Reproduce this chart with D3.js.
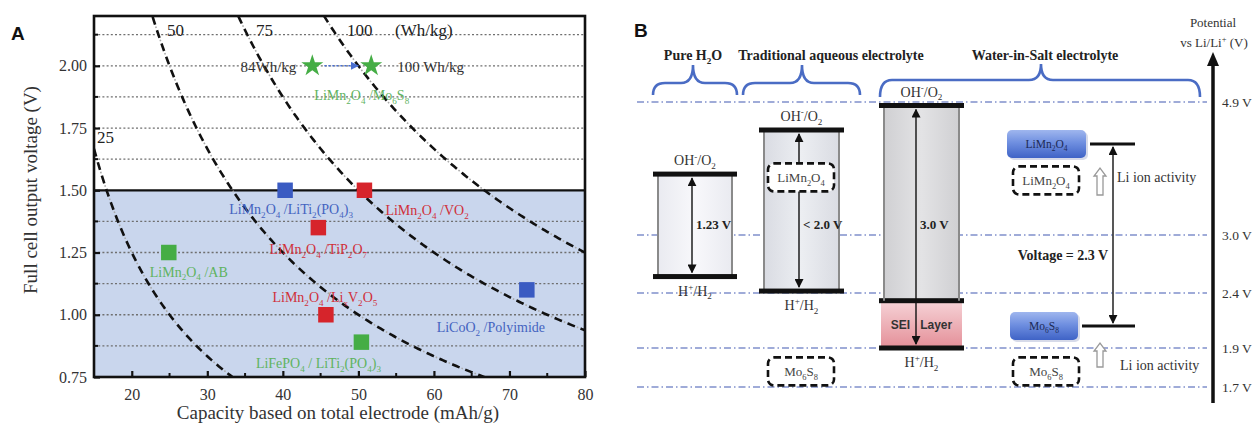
<!DOCTYPE html>
<html><head><meta charset="utf-8">
<script src="https://cdn.jsdelivr.net/npm/d3@7"></script>
<style>
body{margin:0;background:#fff}
svg{display:block}
text{font-family:"Liberation Serif","Times New Roman",serif}
</style>
</head><body>
<svg id="c" width="1255" height="426"></svg>
<script>
// ---------------- DATA: panel A ----------------
const xTicks = [20, 30, 40, 50, 60, 70, 80];
const yTicks = [0.75, 1.00, 1.25, 1.50, 1.75, 2.00];
const energyLevels = [25, 50, 75, 100];           // Wh/kg iso-energy curves
const couples = ["LiMn_2O_4 /LiTi_2(PO_4)_3", "LiMn_2O_4 /VO_2", "LiMn_2O_4 /TiP_2O_7",
                 "LiMn_2O_4 /AB", "LiMn_2O_4 /Li_xV_2O_5", "LiCoO_2 /Polyimide", "LiFePO_4 / LiTi_2(PO_4)_3"];
const capacity = [40.3, 50.8, 44.7, 24.9, 45.7, 72.3, 50.4];
const voltage  = [1.50, 1.50, 1.35, 1.25, 1.00, 1.10, 0.89];
const coupleGroup = ["g1", "g2", "g2", "g3", "g2", "g1", "g3"];
const starCapacity = [43.9, 51.7];
const starVoltage  = [2.0, 2.0];
const starLabels   = ["84Wh/kg", "100 Wh/kg"];
const starCouple   = "LiMn_2O_4 /Mo_6S_8";

// ---------------- DATA: panel B ----------------
const refLevels = [1.7, 1.9, 2.4, 3.0, 4.9];
const electrolytes = ["Pure H_2O", "Traditional aqueous electrolyte", "Water-in-Salt electrolyte"];
const oxidationLimit = [3.87, 4.50, 4.85];
const reductionLimit = [2.57, 2.42, 1.90];
const seiLimit = [null, null, 2.33];
const windowLabels = ["1.23 V", "< 2.0 V", "3.0 V"];
const electrodeNames = ["LiMn_2O_4", "Mo_6S_8"];
const wisElectrodePotential = [4.30, 2.10];
const conventionalElectrodePotential = [3.78, 1.78];

// ---------------- helpers ----------------
const svg = d3.select("#c");
const defs = svg.append("defs");

function rich(t, str, fs) {
  const parts = []; let i = 0;
  while (i < str.length) {
    const c = str[i];
    if ((c === "_" || c === "^") && i + 1 < str.length) { parts.push({t: str[i + 1], k: c}); i += 2; }
    else { let j = i; while (j < str.length && str[j] !== "_" && str[j] !== "^") j++; parts.push({t: str.slice(i, j), k: ""}); i = j; }
  }
  let off = 0;
  parts.forEach(p => {
    const target = p.k === "_" ? fs * 0.28 : p.k === "^" ? -fs * 0.4 : 0;
    const ts = t.append("tspan").attr("dy", target - off).text(p.t);
    if (p.k) ts.attr("font-size", fs * 0.65);
    off = target;
  });
  return t;
}
function label(g, x, y, str, fs, opts = {}) {
  const t = g.append("text").attr("x", x).attr("y", y).attr("font-size", fs)
    .attr("text-anchor", opts.anchor || "start").attr("fill", opts.fill || "#222");
  if (opts.bold) t.attr("font-weight", "bold");
  if (opts.family) t.style("font-family", opts.family);
  return rich(t, str, fs);
}

defs.append("marker").attr("id", "ah").attr("viewBox", "0 0 10 10").attr("refX", 9).attr("refY", 5)
  .attr("markerWidth", 9).attr("markerHeight", 9).attr("markerUnits", "userSpaceOnUse")
  .attr("orient", "auto-start-reverse").append("path").attr("d", "M0,0L10,5L0,10z").attr("fill", "#111");
defs.append("marker").attr("id", "ahb").attr("viewBox", "0 0 10 10").attr("refX", 9).attr("refY", 5)
  .attr("markerWidth", 8).attr("markerHeight", 8).attr("markerUnits", "userSpaceOnUse")
  .attr("orient", "auto").append("path").attr("d", "M0,0L10,5L0,10z").attr("fill", "#4a6fd0");

// ================= PANEL A =================
const xA = d3.scaleLinear().domain([15, 80]).range([94, 585]);
const yA = d3.scaleLinear().domain([0.75, 2.2]).range([377, 16]);
const gA = svg.append("g");
const groupColor = d3.scaleOrdinal().domain(["g1", "g2", "g3"]).range(["#3a5bc2", "#d6242b", "#45ad45"]);
const groupText  = d3.scaleOrdinal().domain(["g1", "g2", "g3"]).range(["#4463c0", "#d0303a", "#5fb35f"]);

defs.append("clipPath").attr("id", "clipA").append("rect")
  .attr("x", xA(15)).attr("y", yA(2.2)).attr("width", xA(80) - xA(15)).attr("height", yA(0.75) - yA(2.2));

gA.append("rect").attr("x", xA(15)).attr("y", yA(1.5)).attr("width", xA(80) - xA(15))
  .attr("height", yA(0.75) - yA(1.5)).attr("fill", "#c9d6ed");

const gridVals = d3.range(7, 18).map(i => i * 0.125).filter(v => v !== 1.5);
gA.selectAll(".grid").data(gridVals).join("line")
  .attr("x1", xA(15)).attr("x2", xA(80)).attr("y1", d => yA(d)).attr("y2", d => yA(d))
  .attr("stroke", "#6f6f6f").attr("stroke-width", 1.3).attr("stroke-dasharray", "2,2.2");
gA.append("line").attr("x1", xA(15)).attr("x2", xA(80)).attr("y1", yA(1.5)).attr("y2", yA(1.5))
  .attr("stroke", "#111").attr("stroke-width", 2.2);

// iso-energy curves V = E / C
const curveLine = d3.line().x(d => xA(d[0])).y(d => yA(d[1]));
const gC = gA.append("g").attr("clip-path", "url(#clipA)");
energyLevels.forEach(E => {
  const pts = d3.range(Math.max(15, E / 2.25), 80.5, 0.25).map(c => [c, E / c]);
  gC.append("path").attr("d", curveLine(pts)).attr("fill", "none")
    .attr("stroke", "#111").attr("stroke-width", 2.6).attr("stroke-dasharray", "8,6");
  gC.append("path").attr("d", curveLine(pts)).attr("fill", "none")
    .attr("stroke", "#aaa").attr("stroke-width", 1.6).attr("stroke-dasharray", "0,10,1.6,2.4");
});
label(gA, 97, 143, "25", 17);
label(gA, 167, 36, "50", 17);
label(gA, 256, 36, "75", 17);
label(gA, 347, 36, "100", 17);
label(gA, 395, 36, "(Wh/kg)", 17);

// axes
const axB = d3.axisBottom(xA).tickValues(xTicks).tickSize(-6).tickPadding(12).tickFormat(d3.format("d"));
const axL = d3.axisLeft(yA).tickValues(yTicks).tickSize(-6).tickPadding(7).tickFormat(d3.format(".2f"));
const gxa = gA.append("g").attr("transform", `translate(0,${yA(0.75)})`).call(axB);
const gya = gA.append("g").attr("transform", `translate(${xA(15)},0)`).call(axL);
[gxa, gya].forEach(g => {
  g.select(".domain").remove();
  g.selectAll(".tick line").attr("stroke", "#111").attr("stroke-width", 2.2);
  g.selectAll(".tick text").attr("font-size", 16).attr("fill", "#333").style("font-family", "Liberation Serif");
});
gA.selectAll(".minx").data(d3.range(25, 80, 10)).join("line")
  .attr("x1", d => xA(d)).attr("x2", d => xA(d)).attr("y1", yA(0.75)).attr("y2", yA(0.75) - 4)
  .attr("stroke", "#111").attr("stroke-width", 2);
gA.selectAll(".miny").data(d3.range(7, 18, 2).map(i => i * 0.125)).join("line")
  .attr("x1", xA(15)).attr("x2", xA(15) + 4).attr("y1", d => yA(d)).attr("y2", d => yA(d))
  .attr("stroke", "#111").attr("stroke-width", 2);
gA.append("rect").attr("x", xA(15)).attr("y", yA(2.2)).attr("width", xA(80) - xA(15))
  .attr("height", yA(0.75) - yA(2.2)).attr("fill", "none").attr("stroke", "#111").attr("stroke-width", 2.6);

gA.append("text").attr("x", 338).attr("y", 419).attr("text-anchor", "middle").attr("font-size", 19)
  .attr("fill", "#333").text("Capacity based on total electrode (mAh/g)");
gA.append("text").attr("transform", "translate(37,190) rotate(-90)").attr("text-anchor", "middle")
  .attr("font-size", 19).attr("fill", "#333").text("Full cell output voltage (V)");
gA.append("text").attr("x", 11).attr("y", 40).attr("font-size", 19).attr("font-weight", "bold")
  .style("font-family", "Liberation Sans").attr("fill", "#111").text("A");

// data squares
const labelLayout = [[6, 24, "middle"], [21, 25, "start"], [0, 26, "middle"], [-19, 24, "start"],
                     [-1, -13, "middle"], [-36, 42, "middle"], [-43, 26, "middle"]];
capacity.forEach((c, i) => {
  const px = xA(c), py = yA(voltage[i]);
  gA.append("path").attr("d", d3.symbol(d3.symbolSquare).size(240)())
    .attr("transform", `translate(${px},${py})`).attr("fill", groupColor(coupleGroup[i]));
  const L = labelLayout[i];
  label(gA, px + L[0], py + L[1], couples[i], 14, {anchor: L[2], fill: groupText(coupleGroup[i])});
});
// stars
gA.append("line").attr("x1", xA(starCapacity[0]) + 12).attr("x2", xA(starCapacity[1]) - 13)
  .attr("y1", yA(2.0)).attr("y2", yA(2.0)).attr("stroke", "#4a6fd0").attr("stroke-width", 1.6)
  .attr("stroke-dasharray", "2,2").attr("marker-end", "url(#ahb)");
starCapacity.forEach((c, i) => {
  gA.append("path").attr("d", d3.symbol(d3.symbolStar).size(150)())
    .attr("transform", `translate(${xA(c)},${yA(starVoltage[i])})`).attr("fill", "#45ad45");
});
label(gA, xA(starCapacity[0]) - 16, yA(2.0) + 6, starLabels[0], 15, {anchor: "end", fill: "#333"});
label(gA, xA(starCapacity[1]) + 26, yA(2.0) + 6, starLabels[1], 15, {fill: "#333"});
label(gA, (xA(starCapacity[0]) + xA(starCapacity[1])) / 2 + 20, yA(2.0) + 34, starCouple, 14, {anchor: "middle", fill: "#5fb35f"});

// ================= PANEL B =================
const yB = d3.scaleLinear().domain(refLevels).range([387, 348, 293, 235, 102]);
const gB = svg.append("g");

function grad(id, stops, vertical) {
  const g = defs.append("linearGradient").attr("id", id)
    .attr("x1", 0).attr("y1", 0).attr("x2", vertical ? 0 : 1).attr("y2", vertical ? 1 : 0);
  stops.forEach(s => g.append("stop").attr("offset", s[0]).attr("stop-color", s[1]));
}
grad("gPure", [[0, "#e9eaf0"], [0.5, "#f8f8fb"], [1, "#e9eaf0"]]);
grad("gTrad", [[0, "#d9dbe2"], [0.5, "#eceef2"], [1, "#d9dbe2"]]);
grad("gWis", [[0, "#cfcfd2"], [0.5, "#e3e3e5"], [1, "#cfcfd2"]]);
grad("gSei", [[0, "#f6d3d7"], [1, "#e48f98"]], true);
grad("gBlue", [[0, "#9fb6ee"], [0.45, "#6f8fe0"], [1, "#3f63c6"]], true);
const boxFill = ["url(#gPure)", "url(#gTrad)", "url(#gWis)"];

gB.append("text").attr("x", 634).attr("y", 37).attr("font-size", 19).attr("font-weight", "bold")
  .style("font-family", "Liberation Sans").attr("fill", "#111").text("B");

// reference level lines
refLevels.forEach(v => {
  gB.append("line").attr("x1", 637).attr("x2", 1207).attr("y1", yB(v)).attr("y2", yB(v))
    .attr("stroke", "#8090cc").attr("stroke-width", 1.3).attr("stroke-dasharray", "7,3,1.5,3");
  label(gB, 1222, yB(v) + 5, d3.format(".1f")(v) + " V", 13.5, {fill: "#333"});
});

// potential axis
gB.append("line").attr("x1", 1213).attr("x2", 1213).attr("y1", 403).attr("y2", 62)
  .attr("stroke", "#111").attr("stroke-width", 3.5);
gB.append("path").attr("d", "M1213,52 L1219,66 L1207,66 Z").attr("fill", "#111");
label(gB, 1213, 27, "Potential", 13, {anchor: "middle", fill: "#333"});
label(gB, 1214, 47, "vs Li/Li^+ (V)", 13, {anchor: "middle", fill: "#333"});

// column layout
const colX0 = [653, 759, 879], colX1 = [737, 844, 964], arrowX = [692, 799, 916];
const braceL = [[653, 737, 693, 83, 65, 95], [743, 860, 802, 83, 65, 95], [880, 1200, 1041, 80, 64, 97]];
const headX = [693, 831, 1045];

function brace(x0, x1, ax, ym, yt, yb) {
  const r = 12;
  return `M${x0},${yb} Q${x0},${ym} ${x0 + r},${ym} L${ax - r},${ym} Q${ax},${ym} ${ax},${yt} ` +
         `Q${ax},${ym} ${ax + r},${ym} L${x1 - r},${ym} Q${x1},${ym} ${x1},${yb}`;
}

electrolytes.forEach((name, i) => {
  const b = braceL[i];
  gB.append("path").attr("d", brace(...b)).attr("fill", "none").attr("stroke", "#4a6cc4").attr("stroke-width", 2.6);
  label(gB, headX[i], 60, name, 14, {anchor: "middle", bold: true, fill: "#222"});

  const x0 = colX0[i], x1 = colX1[i];
  const yTop = yB(oxidationLimit[i]);
  const yBot = yB(reductionLimit[i]);
  const ySei = seiLimit[i] != null ? yB(seiLimit[i]) : yBot;
  gB.append("rect").attr("x", x0 + 4).attr("y", yTop).attr("width", x1 - x0 - 8).attr("height", ySei - yTop)
    .attr("fill", boxFill[i]);
  if (seiLimit[i] != null) {
    gB.append("rect").attr("x", x0 + 2).attr("y", ySei).attr("width", x1 - x0 - 4).attr("height", yBot - ySei)
      .attr("fill", "url(#gSei)");
    gB.append("rect").attr("x", x0).attr("y", ySei - 2.5).attr("width", x1 - x0).attr("height", 5).attr("fill", "#111");
    gB.append("text").attr("x", (x0 + x1) / 2).attr("y", (ySei + yBot) / 2 + 5).attr("text-anchor", "middle")
      .attr("font-size", 12).attr("font-weight", "bold").style("font-family", "Liberation Sans")
      .attr("fill", "#333").attr("xml:space", "preserve").text("SEI   Layer");
  }
  [x0 + 5, x1 - 5].forEach(xx => gB.append("line").attr("x1", xx).attr("x2", xx).attr("y1", yTop).attr("y2", ySei)
    .attr("stroke", "#8a8a8a").attr("stroke-width", 2));
  gB.append("rect").attr("x", x0).attr("y", yTop - 2.5).attr("width", x1 - x0).attr("height", 5).attr("fill", "#111");
  gB.append("rect").attr("x", x0).attr("y", yBot - 2.5).attr("width", x1 - x0).attr("height", 5).attr("fill", "#111");
  gB.append("line").attr("x1", arrowX[i]).attr("x2", arrowX[i]).attr("y1", yTop + 4).attr("y2", yBot - 4)
    .attr("stroke", "#111").attr("stroke-width", 1.4).attr("marker-start", "url(#ah)").attr("marker-end", "url(#ah)");
  label(gB, arrowX[i] + 4, 229, windowLabels[i], 13, {bold: true, fill: "#222"});
  label(gB, (x0 + x1) / 2, yTop - 9, "OH^-/O_2", 14, {anchor: "middle", fill: "#333"});
  label(gB, (x0 + x1) / 2, yBot + 19, "H^+/H_2", 14, {anchor: "middle", fill: "#333"});
});

// electrodes
function dashedBox(cx, cy, w, h, name) {
  gB.append("rect").attr("x", cx - w / 2).attr("y", cy - h / 2).attr("width", w).attr("height", h)
    .attr("rx", 6).attr("fill", "#fff").attr("stroke", "#111").attr("stroke-width", 2.6).attr("stroke-dasharray", "7,4");
  label(gB, cx, cy + 5, name, 13, {anchor: "middle", fill: "#444"});
}
function hollowUp(x, yb, yt) {
  gB.append("path").attr("d", `M${x - 3},${yb} L${x + 3},${yb} L${x + 3},${yt + 8} L${x + 6},${yt + 8} L${x},${yt} L${x - 6},${yt + 8} L${x - 3},${yt + 8} Z`)
    .attr("fill", "#fff").attr("stroke", "#999").attr("stroke-width", 1.3);
}
const blueX0 = [1007, 1010], blueX1 = [1086, 1078];
electrodeNames.forEach((name, k) => {
  const y = yB(wisElectrodePotential[k]);
  gB.append("rect").attr("x", blueX0[k] + 2).attr("y", y - 12).attr("width", blueX1[k] - blueX0[k]).attr("height", 28)
    .attr("rx", 5).attr("fill", "#c5cbe0").attr("opacity", 0.7);
  gB.append("rect").attr("x", blueX0[k]).attr("y", y - 14).attr("width", blueX1[k] - blueX0[k]).attr("height", 28)
    .attr("rx", 5).attr("fill", "url(#gBlue)");
  label(gB, (blueX0[k] + blueX1[k]) / 2, y + 4, name, 11.5, {anchor: "middle", fill: "#1d2a55"});
  gB.append("line").attr("x1", blueX1[k] + 4).attr("x2", 1135).attr("y1", y).attr("y2", y)
    .attr("stroke", "#111").attr("stroke-width", 3);
  const yd = yB(conventionalElectrodePotential[k]);
  dashedBox(1046, yd, 66, 28, name);
  dashedBox(801, yd - (k === 0 ? 3 : 0), 66, 28, name);
});
hollowUp(1100, 195, 168);
hollowUp(1100, 367, 343);
label(gB, 1117, 182, "Li ion activity", 14, {fill: "#333"});
label(gB, 1120, 370, "Li ion activity", 14, {fill: "#333"});
gB.append("line").attr("x1", 1113).attr("x2", 1113)
  .attr("y1", yB(wisElectrodePotential[0]) + 3).attr("y2", yB(wisElectrodePotential[1]) - 3)
  .attr("stroke", "#111").attr("stroke-width", 1.4).attr("marker-start", "url(#ah)").attr("marker-end", "url(#ah)");
label(gB, 1063, 260, "Voltage = 2.3 V", 14, {anchor: "middle", bold: true, fill: "#222"});
</script>
</body></html>
